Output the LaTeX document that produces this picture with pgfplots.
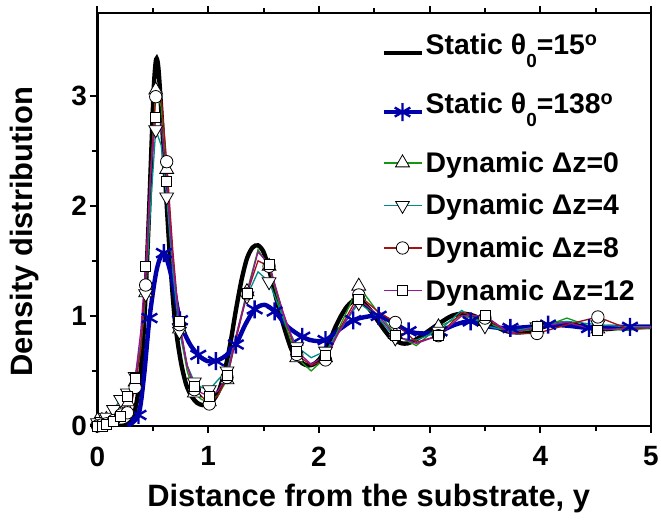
\documentclass[border=0pt]{standalone}
\usepackage{fontspec}
\setmainfont{Liberation Sans}
\usepackage{pgfplots}
\usepackage{pgfplotstable}
\pgfplotsset{compat=1.18}

\definecolor{cGreen}{RGB}{20,150,20}
\definecolor{cTeal}{RGB}{0,140,140}
\definecolor{cRed}{RGB}{160,20,20}
\definecolor{cPurple}{RGB}{150,20,150}
\definecolor{cBlue}{RGB}{0,0,170}

% subscript set well below the baseline, as in the original
\newcommand{\lowsub}[1]{\raisebox{-13bp}{\fontsize{19}{19}\selectfont #1}}

% Static, theta0 = 15 deg
\pgfplotstableread{
x y
0.00 0.00
0.20 0.00
0.28 0.02
0.33 0.10
0.38 0.40
0.42 0.90
0.46 1.80
0.49 2.60
0.51 3.10
0.53 3.33
0.55 3.25
0.58 2.80
0.62 2.10
0.66 1.45
0.70 0.95
0.75 0.60
0.80 0.38
0.85 0.27
0.90 0.21
0.95 0.19
1.00 0.20
1.05 0.24
1.10 0.33
1.15 0.50
1.20 0.75
1.25 1.05
1.30 1.32
1.35 1.52
1.40 1.62
1.45 1.64
1.50 1.58
1.55 1.42
1.60 1.22
1.65 1.02
1.70 0.85
1.75 0.70
1.80 0.62
1.85 0.57
1.90 0.55
1.95 0.56
2.00 0.60
2.05 0.68
2.10 0.78
2.15 0.90
2.20 1.00
2.25 1.08
2.30 1.13
2.35 1.15
2.40 1.12
2.45 1.07
2.50 1.00
2.55 0.93
2.60 0.86
2.65 0.80
2.70 0.77
2.75 0.75
2.80 0.75
2.85 0.77
2.90 0.80
3.00 0.87
3.10 0.94
3.20 1.00
3.30 1.02
3.40 1.00
3.50 0.95
3.60 0.90
3.70 0.86
3.80 0.85
3.90 0.86
4.00 0.89
4.10 0.92
4.20 0.93
4.30 0.92
4.40 0.90
4.50 0.89
4.60 0.88
4.70 0.89
4.80 0.90
5.00 0.90
}\staticlow

% Static, theta0 = 138 deg (every second point carries a mark)
\pgfplotstableread{
x y
0.27 0.00
0.37 0.10
0.42 0.45
0.47 0.98
0.535 1.42
0.60 1.57
0.67 1.35
0.745 0.96
0.825 0.76
0.91 0.645
0.99 0.59
1.07 0.59
1.16 0.64
1.25 0.74
1.335 0.92
1.42 1.06
1.51 1.10
1.60 1.04
1.72 0.90
1.85 0.81
1.95 0.775
2.06 0.78
2.19 0.88
2.31 0.96
2.42 0.99
2.54 1.00
2.67 0.94
2.81 0.86
2.95 0.84
3.09 0.86
3.23 0.92
3.37 0.95
3.55 0.90
3.73 0.89
3.90 0.90
4.07 0.92
4.25 0.91
4.44 0.89
4.62 0.90
4.81 0.90
5.00 0.90
}\statichigh

% Dynamic runs: g = dz 0, t = dz 4, r = dz 8, p = dz 12 (marks on every second row)
\pgfplotstableread{
x g t r p
0.00 0.05 0.03 0.00 0.00
0.02 0.05 0.03 0.00 0.00
0.04 0.05 0.04 0.01 0.00
0.06 0.05 0.06 0.01 0.00
0.08 0.06 0.08 0.02 0.01
0.11 0.07 0.11 0.03 0.02
0.145 0.08 0.15 0.05 0.04
0.18 0.10 0.20 0.07 0.06
0.21 0.12 0.24 0.10 0.09
0.24 0.16 0.27 0.11 0.17
0.27 0.22 0.30 0.12 0.27
0.305 0.30 0.37 0.20 0.35
0.34 0.40 0.45 0.35 0.43
0.39 0.70 0.75 0.70 0.85
0.435 1.21 1.20 1.28 1.45
0.48 2.30 2.00 2.30 2.30
0.526 3.05 2.69 2.99 2.80
0.575 2.90 2.55 3.00 2.75
0.625 2.33 2.08 2.40 2.22
0.68 1.50 1.40 1.60 1.50
0.74 0.88 0.86 0.92 0.95
0.81 0.50 0.55 0.55 0.55
0.875 0.30 0.40 0.33 0.36
0.94 0.24 0.35 0.27 0.30
1.01 0.22 0.33 0.20 0.27
1.09 0.28 0.42 0.28 0.32
1.17 0.42 0.50 0.44 0.46
1.26 0.85 0.85 0.82 0.85
1.35 1.22 1.18 1.20 1.20
1.45 1.60 1.40 1.50 1.58
1.55 1.45 1.31 1.45 1.47
1.67 1.00 1.00 1.05 1.05
1.80 0.62 0.72 0.65 0.68
1.93 0.50 0.62 0.55 0.56
2.06 0.62 0.68 0.60 0.64
2.21 0.95 0.90 0.92 0.90
2.36 1.27 1.12 1.19 1.15
2.52 1.05 1.00 1.05 1.02
2.69 0.83 0.80 0.94 0.82
2.88 0.73 0.78 0.76 0.75
3.08 0.90 0.86 0.82 0.82
3.29 1.00 1.05 1.03 1.00
3.50 0.95 0.91 0.98 1.00
3.73 0.85 0.86 0.84 0.84
3.97 0.88 0.90 0.84 0.90
4.24 0.98 0.95 0.92 0.94
4.52 0.88 0.92 0.99 0.87
4.80 0.87 0.90 0.88 0.89
5.08 0.90 0.90 0.90 0.90
}\dynamic

\begin{document}
\begin{tikzpicture}
\begin{axis}[
  scale only axis,
  width=553.5bp, height=413bp,
  xmin=0, xmax=5, ymin=0, ymax=3.75,
  xtick={0,1,2,3,4,5}, ytick={0,1,2,3},
  minor x tick num=1, minor y tick num=1,
  xtick pos=both, ytick pos=left,
  tick align=outside,
  major tick length=7bp, minor tick length=5bp,
  every tick/.style={black, line width=2bp},
  axis line style={line width=2.8bp},
  tick label style={font=\fontsize{28}{28}\selectfont\bfseries},
  xticklabel style={yshift=-10bp},
  /pgf/number format/assume math mode=true,
  xlabel={Distance from the substrate, y},
  ylabel={Density distribution},
  label style={font=\fontsize{31}{31}\selectfont\bfseries},
  xlabel style={at={(axis description cs:0.49,-0.175)}, anchor=center},
  ylabel style={at={(axis description cs:-0.131,0.47)}, anchor=center},
  legend image code/.code={\draw[mark repeat=2,mark phase=2] plot coordinates {(0bp,0bp) (19bp,0bp) (38bp,0bp)};},
  legend style={at={(axis description cs:0.507,0.96)}, anchor=north west,
    draw=none, fill=none, font=\fontsize{28.5}{32}\selectfont\bfseries,
    row sep=16.5bp},
  legend cell align=left,
]
\addplot[black, line width=4.4bp, smooth] table {\staticlow};
\addlegendentry[text depth=18bp]{Static θ\lowsub{0}=15\textsuperscript{o}}

\addplot[cBlue, line width=4.4bp, smooth, mark=asterisk, mark repeat=2, mark phase=2,
  mark options={line width=2.4bp, mark size=9bp}] table {\statichigh};
\addlegendentry[text depth=18bp]{Static θ\lowsub{0}=138\textsuperscript{o}}

\addplot[cGreen, line width=1.3bp, mark=triangle*, mark repeat=2,
  mark options={draw=black, fill=white, line width=0.8bp, mark size=8bp}] table[y=g] {\dynamic};
\addlegendentry{Dynamic Δz=0}

\addplot[cTeal, line width=1.3bp, mark=triangle*, mark repeat=2,
  mark options={draw=black, fill=white, line width=0.8bp, mark size=8bp, rotate=180}] table[y=t] {\dynamic};
\addlegendentry{Dynamic Δz=4}

\addplot[cRed, line width=1.3bp, mark=*, mark repeat=2,
  mark options={draw=black, fill=white, line width=0.8bp, mark size=6.2bp}] table[y=r] {\dynamic};
\addlegendentry{Dynamic Δz=8}

\addplot[cPurple, line width=1.3bp, mark=square*, mark repeat=2,
  mark options={draw=black, fill=white, line width=0.8bp, mark size=5bp}] table[y=p] {\dynamic};
\addlegendentry{Dynamic Δz=12}
\end{axis}
\pgfresetboundingbox
\path[use as bounding box] ([shift={(-97.5bp,-96bp)}]current axis.south west)
  rectangle ([shift={(10bp,13bp)}]current axis.north east);
\end{tikzpicture}
\end{document}
